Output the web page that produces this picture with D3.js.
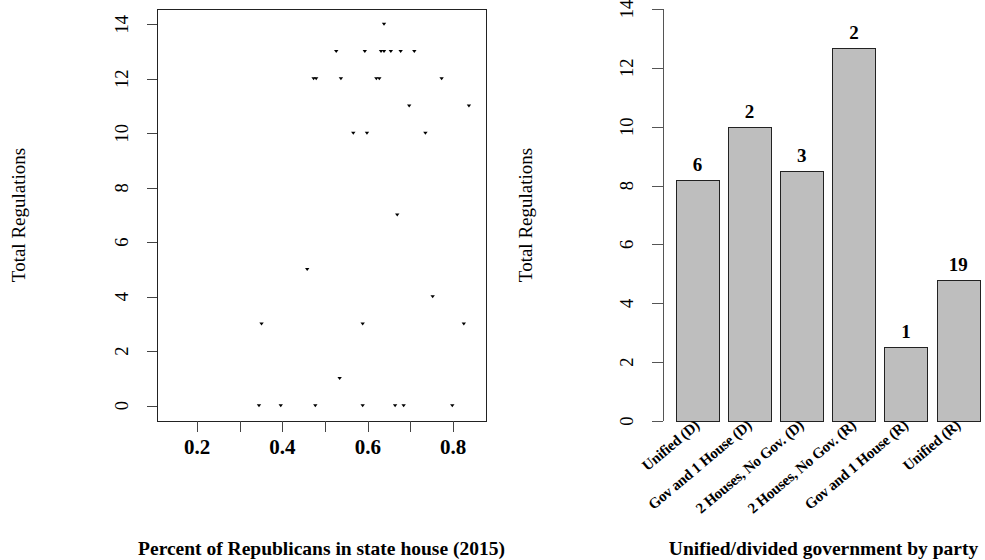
<!DOCTYPE html>
<html>
<head>
<meta charset="utf-8">
<script src="https://cdn.jsdelivr.net/npm/d3@7"></script>
<style>
  html, body { margin: 0; padding: 0; background: #fff; }
  svg { display: block; }
  text { font-family: "Liberation Serif", "Times New Roman", serif; fill: #000; }
</style>
</head>
<body>
<svg id="chart" width="985" height="560"></svg>
<script>
// Left panel: share of Republicans in the state house vs. total regulations
const pctRepublican = [
  0.638,
  0.526, 0.593, 0.631, 0.638, 0.654, 0.677, 0.709,
  0.473, 0.479, 0.537, 0.620, 0.627, 0.773,
  0.697, 0.837,
  0.566, 0.598, 0.735,
  0.669,
  0.458,
  0.752,
  0.351, 0.588, 0.825,
  0.534,
  0.345, 0.396, 0.477, 0.588, 0.664, 0.684, 0.798
];
const totalRegs = [
  14,
  13, 13, 13, 13, 13, 13, 13,
  12, 12, 12, 12, 12, 12,
  11, 11,
  10, 10, 10,
  7,
  5,
  4,
  3, 3, 3,
  1,
  0, 0, 0, 0, 0, 0, 0
];
const scatterXTicks = [0.2, 0.3, 0.4, 0.5, 0.6, 0.7, 0.8];
const scatterXLabels = [0.2, 0.4, 0.6, 0.8];
const regTicks = [0, 2, 4, 6, 8, 10, 12, 14];

// Right panel: mean regulations by unified/divided government
const govCategories = [
  "Unified (D)", "Gov and 1 House (D)", "2 Houses, No Gov. (D)",
  "2 Houses, No Gov. (R)", "Gov and 1 House (R)", "Unified (R)"
];
const govMeans = [8.2, 10, 8.5, 12.67, 2.5, 4.8];
const govCounts = [6, 2, 3, 2, 1, 19];

const svg = d3.select("#chart");

// ---------- left panel ----------
const L = { left: 157, right: 486, top: 9, bottom: 421 };
const x1 = d3.scaleLinear().domain([0.106, 0.877]).range([L.left, L.right]);
const y1 = d3.scaleLinear().domain([-0.56, 14.56]).range([L.bottom, L.top]);

const left = svg.append("g");

left.append("rect")
  .attr("x", L.left + 0.5).attr("y", L.top + 0.5)
  .attr("width", L.right - L.left).attr("height", L.bottom - L.top)
  .attr("fill", "none").attr("stroke", "#222").attr("stroke-width", 1);

// y axis ticks + rotated labels
left.selectAll("line.ytick").data(regTicks).join("line")
  .attr("x1", L.left - 10).attr("x2", L.left)
  .attr("y1", d => Math.round(y1(d)) + 0.5).attr("y2", d => Math.round(y1(d)) + 0.5)
  .attr("stroke", "#444");
left.selectAll("text.ylab").data(regTicks).join("text")
  .attr("transform", d => `translate(${L.left - 29},${y1(d)}) rotate(-90)`)
  .attr("text-anchor", "middle")
  .attr("font-size", 18.5)
  .text(d => d);

// x axis ticks + labels
left.selectAll("line.xtick").data(scatterXTicks).join("line")
  .attr("x1", d => Math.round(x1(d)) + 0.5).attr("x2", d => Math.round(x1(d)) + 0.5)
  .attr("y1", L.bottom).attr("y2", L.bottom + 11)
  .attr("stroke", "#444");
left.selectAll("text.xlab").data(scatterXLabels).join("text")
  .attr("x", d => x1(d)).attr("y", 454)
  .attr("text-anchor", "middle")
  .attr("font-size", 21).attr("font-weight", "bold")
  .text(d => d.toFixed(1));

// points
const tri = "M-2.2,-1.6L2.2,-1.6L0,1.6Z";
left.selectAll("path.pt").data(pctRepublican.map((v, i) => [v, totalRegs[i]])).join("path")
  .attr("d", tri)
  .attr("transform", d => `translate(${x1(d[0])},${y1(d[1])})`)
  .attr("fill", "#000");

left.append("text")
  .attr("transform", `translate(25,${(L.top + L.bottom) / 2}) rotate(-90)`)
  .attr("text-anchor", "middle").attr("font-size", 19)
  .text("Total Regulations");

left.append("text")
  .attr("x", (L.left + L.right) / 2).attr("y", 555)
  .attr("text-anchor", "middle").attr("font-size", 19.5).attr("font-weight", "bold")
  .text("Percent of Republicans in state house (2015)");

// ---------- right panel ----------
const R = { axis: 663, left: 667, right: 980, top: 9, bottom: 421 };
const x2 = d3.scaleBand().domain(govCategories)
  .range([R.left, R.right]).paddingInner(1 / 6).paddingOuter(1 / 12).align(1);
const y2 = d3.scaleLinear().domain([0, 14]).range([R.bottom, R.top]);

const right = svg.append("g");

right.append("line")
  .attr("x1", R.axis + 0.5).attr("x2", R.axis + 0.5)
  .attr("y1", y2(0)).attr("y2", y2(14))
  .attr("stroke", "#555");
right.selectAll("line.ytick").data(regTicks).join("line")
  .attr("x1", R.axis - 11).attr("x2", R.axis)
  .attr("y1", d => Math.round(y2(d)) + 0.5).attr("y2", d => Math.round(y2(d)) + 0.5)
  .attr("stroke", "#555");
right.selectAll("text.ylab").data(regTicks).join("text")
  .attr("transform", d => `translate(${R.axis - 30},${y2(d)}) rotate(-90)`)
  .attr("text-anchor", "middle")
  .attr("font-size", 18.5)
  .text(d => d);

const bars = govCategories.map((c, i) => ({ c, m: govMeans[i], n: govCounts[i] }));

right.selectAll("rect.bar").data(bars).join("rect")
  .attr("x", d => Math.round(x2(d.c)) + 0.5)
  .attr("y", d => Math.round(y2(d.m)) + 0.5)
  .attr("width", Math.round(x2.bandwidth()))
  .attr("height", d => Math.round(y2(0)) - Math.round(y2(d.m)))
  .attr("fill", "#bebebe").attr("stroke", "#222");

right.selectAll("text.count").data(bars).join("text")
  .attr("x", d => x2(d.c) + x2.bandwidth() / 2)
  .attr("y", d => y2(d.m) - 9)
  .attr("text-anchor", "middle").attr("font-size", 19).attr("font-weight", "bold")
  .text(d => d.n);

right.selectAll("text.cat").data(bars).join("text")
  .attr("transform", d => `translate(${x2(d.c) + x2.bandwidth() / 2 + 3},${R.bottom + 6}) rotate(-40)`)
  .attr("text-anchor", "end").attr("font-size", 15).attr("font-weight", "bold")
  .attr("letter-spacing", -0.25)
  .text(d => d.c);

right.append("text")
  .attr("transform", `translate(${R.axis - 131},${(R.top + R.bottom) / 2}) rotate(-90)`)
  .attr("text-anchor", "middle").attr("font-size", 19)
  .text("Total Regulations");

right.append("text")
  .attr("x", (R.left + R.right) / 2).attr("y", 555)
  .attr("text-anchor", "middle").attr("font-size", 19.5).attr("font-weight", "bold")
  .text("Unified/divided government by party");
</script>
</body>
</html>
